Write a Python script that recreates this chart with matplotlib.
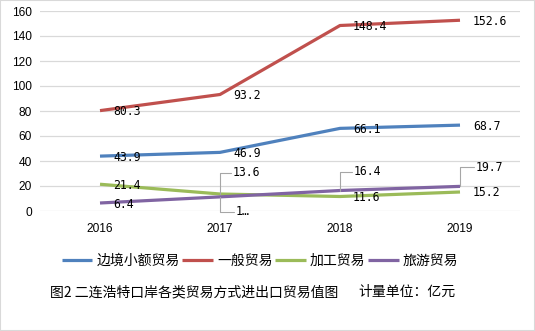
import matplotlib.pyplot as plt
from matplotlib.patches import Rectangle

plt.rcParams['font.family'] = ['Noto Sans CJK SC', 'DejaVu Sans']

years = ['2016', '2017', '2018', '2019']
border = [43.9, 46.9, 66.1, 68.7]      # 边境小额贸易
general = [80.3, 93.2, 148.4, 152.6]   # 一般贸易
process = [21.4, 13.6, 11.6, 15.2]     # 加工贸易
tourism = [6.4, 11.3, 16.4, 19.7]      # 旅游贸易
names = ['边境小额贸易', '一般贸易', '加工贸易', '旅游贸易']
colors = ['#4F81BD', '#C0504D', '#9BBB59', '#8064A2']
yticks = [0, 20, 40, 60, 80, 100, 120, 140, 160]

fig = plt.figure(figsize=(5.35, 3.31), dpi=100)
ax = fig.add_axes([40 / 535, 1 - 211 / 331, 480 / 535, 200 / 331])
x = range(len(years))
series = [border, general, process, tourism]
for vals, name, c in zip(series, names, colors):
    ax.plot(x, vals, color=c, lw=2.3, label=name, solid_capstyle='butt')

ax.set_xlim(-0.5, 3.5)
ax.set_ylim(0, 160)
ax.set_yticks(yticks)
ax.set_xticks(list(x))
ax.set_xticklabels(years)
ax.grid(axis='y', color='#D9D9D9', lw=0.9)
ax.set_axisbelow(True)
for s in ax.spines.values():
    s.set_visible(False)
ax.tick_params(length=0, labelsize=8.6, colors='black')
ax.tick_params(axis='y', pad=6)
ax.tick_params(axis='x', pad=9)
for lab in ax.get_xticklabels() + ax.get_yticklabels():
    lab.set_fontfamily('Liberation Sans')

lab_font = dict(fontsize=8.3, family='DejaVu Sans Mono', va='center', ha='left')

# plain labels to the right of the points
plain = [(border, [0, 1, 2, 3]), (general, [0, 1, 2, 3]),
         (process, [0, 2, 3]), (tourism, [0])]
for vals, idx in plain:
    for i in idx:
        ax.annotate(f'{vals[i]}', (i, vals[i]), xytext=(13, -1),
                    textcoords='offset pixels', **lab_font)

# callout labels with leader lines
callouts = [(1, process[1], '13.6', (5, 21)), (1, tourism[1], '1…', (8, -15)),
            (2, tourism[2], '16.4', (6, 19)), (3, tourism[3], '19.7', (8, 19))]
for i, v, txt, (dx, dy) in callouts:
    ax.annotate(txt, (i, v), xytext=(dx + 8, dy), textcoords='offset pixels',
                **lab_font)
    ax.annotate('', (i, v), xytext=(dx + 6, dy), textcoords='offset pixels',
                arrowprops=dict(arrowstyle='-', color='#A6A6A6', lw=0.8,
                                connectionstyle='angle,angleA=0,angleB=90,rad=0',
                                shrinkA=0, shrinkB=0))

fig.legend(loc='center', bbox_to_anchor=(260 / 535, 1 - 261 / 331), ncol=4,
           frameon=False, fontsize=10, handlelength=2.2, handletextpad=0.3,
           columnspacing=0.2)

fig.text(50 / 535, 1 - 292 / 331, '图2 二连浩特口岸各类贸易方式进出口贸易值图',
         fontsize=10, va='center', ha='left', weight='medium')
fig.text(358 / 535, 1 - 292 / 331, '计量单位：亿元',
         fontsize=10, va='center', ha='left', weight='medium')

fig.patches.append(Rectangle((0, 0), 1, 1, transform=fig.transFigure,
                             fill=False, edgecolor='#D9D9D9', lw=1.5))

plt.savefig('out.png', dpi=100)
